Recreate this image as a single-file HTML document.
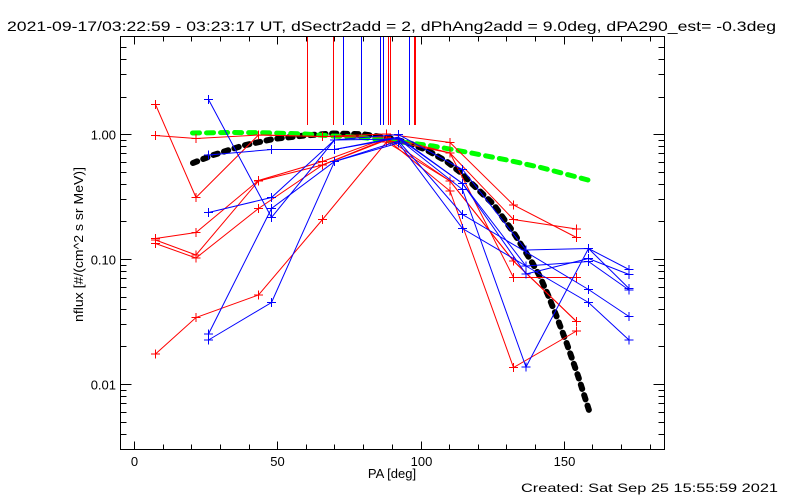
<!DOCTYPE html>
<html>
<head>
<meta charset="utf-8">
<style>
html,body{margin:0;padding:0;background:#fff;}
svg{display:block;}
text{font-family:"Liberation Sans",sans-serif;fill:#000;}
</style>
</head>
<body>
<svg width="800" height="500" viewBox="0 0 800 500" xmlns="http://www.w3.org/2000/svg">
<rect x="0" y="0" width="800" height="500" fill="#fff"/>

<!-- title -->
<text x="7" y="31" font-size="14" textLength="769" lengthAdjust="spacingAndGlyphs">2021-09-17/03:22:59 - 03:23:17 UT, dSectr2add = 2, dPhAng2add = 9.0deg, dPA290_est= -0.3deg</text>

<!-- vertical marker lines at top -->
<g stroke-width="1" shape-rendering="crispEdges">
<path d="M307.5,36.5V125M333.5,36.5V125M388.5,36.5V125M390.5,36.5V125M414.5,36.5V125M415.5,36.5V125" stroke="#ff0000"/>
<path d="M343.5,36.5V125M361.5,36.5V125M380.5,36.5V125M383.5,36.5V125M409.5,36.5V125" stroke="#0000ff"/>
</g>

<!-- black fit curve -->
<polyline fill="none" stroke="#000" stroke-width="6" stroke-linecap="round" stroke-linejoin="round" stroke-dasharray="4.5 6.5"
points="193,163 213.3,155 243.3,145.5 273.3,139 306.7,135.3 333.3,133.5 363.3,134.3 386.7,137.7 406.7,142.3 426.7,150 446.7,161.5 460,172 473.3,185 493.3,204 506.7,223 513.3,232 523.3,248.3 533,264 540,276.7 548,295 556.7,316.7 566.7,343.3 578.3,376.7 590.5,415"/>

<!-- green curve -->
<polyline fill="none" stroke="#00ff00" stroke-width="5" stroke-linecap="round" stroke-linejoin="round" stroke-dasharray="7 7.03"
points="192.5,133 230,132.5 263,132.7 305,134 333,136 360,137.3 383,140 407,142.7 433,146 470,152.7 507,160 540,167.3 573,176 588,180"/>

<!-- red series -->
<g fill="none" stroke="#ff0000" stroke-width="1">
<polyline points="155.5,104.5 196,197.5 258.5,135 322.5,136.5 386.5,134 450,142.5 513.5,205 576.5,237.5"/>
<polyline points="155.5,135.5 196,138.5 258.5,135 322.5,136.5 386.5,137 450,153 513.5,219.5 576.5,229"/>
<polyline points="155.5,238.5 196,232.5 258.5,180.5 322.5,161.5 386.5,138 450,181 513.5,261 576.5,321.5"/>
<polyline points="155.5,240 196,255 258.5,181 322.5,165 386.5,139 450,191 513.5,367.5 576.5,331"/>
<polyline points="155.5,243.5 196,258 258.5,208.5 322.5,165 386.5,140 450,153 513.5,277.5 576.5,277.5"/>
<polyline points="155.5,354 196,317.5 258.5,295 322.5,219.5 386.5,142 450,181 513.5,261 576.5,321.5"/>
<path d="M151,104.5h9M155.5,100v9M151,135.5h9M155.5,131v9M151,238.5h9M155.5,234v9M151,240h9M155.5,235.5v9M151,243.5h9M155.5,239v9M151,354h9M155.5,349.5v9
M191.5,197.5h9M196,193v9M191.5,138.5h9M196,134v9M191.5,232.5h9M196,228v9M191.5,255h9M196,250.5v9M191.5,258h9M196,253.5v9M191.5,317.5h9M196,313v9
M254,135h9M258.5,130.5v9M254,180.5h9M258.5,176v9M254,181h9M258.5,176.5v9M254,208.5h9M258.5,204v9M254,295h9M258.5,290.5v9
M318,136.5h9M322.5,132v9M318,161.5h9M322.5,157v9M318,165h9M322.5,160.5v9M318,219.5h9M322.5,215v9
M382,134h9M386.5,129.5v9M382,137h9M386.5,132.5v9M382,140h9M386.5,135.5v9M382,142h9M386.5,137.5v9
M445.5,142.5h9M450,138v9M445.5,153h9M450,148.5v9M445.5,181h9M450,176.5v9M445.5,191h9M450,186.5v9
M509,205h9M513.5,200.5v9M509,219.5h9M513.5,215v9M509,261h9M513.5,256.5v9M509,367.5h9M513.5,363v9M509,277.5h9M513.5,273v9
M572,237.5h9M576.5,233v9M572,229h9M576.5,224.5v9M572,321.5h9M576.5,317v9M572,331h9M576.5,326.5v9M572,277.5h9M576.5,273v9"/>
</g>

<!-- blue series -->
<g fill="none" stroke="#0000ff" stroke-width="1">
<polyline points="208.5,99.5 271.5,217.5 334.5,140 398.5,134.5 462.5,169.5 526,250 588.5,248.5 629,269.5"/>
<polyline points="208.5,155 271.5,149.5 334.5,149.5 398.5,137 462.5,183.5 526,274 588.5,258.5 629,274.5"/>
<polyline points="208.5,212.5 271.5,197.5 334.5,140 398.5,139 462.5,189.5 526,367 588.5,248.5 629,288.5"/>
<polyline points="208.5,334 271.5,208.5 334.5,161.5 398.5,141 462.5,214.5 526,252 588.5,289.5 629,316.5"/>
<polyline points="208.5,340 271.5,302.5 334.5,161.5 398.5,143 462.5,228.5 526,266 588.5,302.5 629,340"/>
<polyline points="334.5,149.5 398.5,138 462.5,183.5 526,266 588.5,261.5 629,290"/>
<path d="M204,99.5h9M208.5,95v9M204,155h9M208.5,150.5v9M204,212.5h9M208.5,208v9M204,334h9M208.5,329.5v9M204,340h9M208.5,335.5v9
M267,217.5h9M271.5,213v9M267,149.5h9M271.5,145v9M267,197.5h9M271.5,193v9M267,208.5h9M271.5,204v9M267,302.5h9M271.5,298v9
M330,140h9M334.5,135.5v9M330,149.5h9M334.5,145v9M330,161.5h9M334.5,157v9
M394,134.5h9M398.5,130v9M394,139h9M398.5,134.5v9M394,143h9M398.5,138.5v9
M458,169.5h9M462.5,165v9M458,183.5h9M462.5,179v9M458,189.5h9M462.5,185v9M458,214.5h9M462.5,210v9M458,228.5h9M462.5,224v9
M521.5,250h9M526,245.5v9M521.5,274h9M526,269.5v9M521.5,367h9M526,362.5v9M521.5,266h9M526,261.5v9
M584,248.5h9M588.5,244v9M584,258.5h9M588.5,254v9M584,261.5h9M588.5,257v9M584,289.5h9M588.5,285v9M584,302.5h9M588.5,298v9
M624.5,269.5h9M629,265v9M624.5,274.5h9M629,270v9M624.5,288.5h9M629,284v9M624.5,290h9M629,285.5v9M624.5,316.5h9M629,312v9M624.5,340h9M629,335.5v9"/>
</g>

<!-- axes box and ticks -->
<g fill="none" stroke="#000" stroke-width="1" shape-rendering="crispEdges">
<rect x="120.5" y="36.5" width="544" height="413"/>
<path d="M134.5,449.5v-8M277.5,449.5v-8M421.5,449.5v-8M564.5,449.5v-8
M134.5,36.5v8M277.5,36.5v8M421.5,36.5v8M564.5,36.5v8"/>
<path d="M163.5,449.5v-5M191.5,449.5v-5M220.5,449.5v-5M249.5,449.5v-5M306.5,449.5v-5M334.5,449.5v-5M363.5,449.5v-5M392.5,449.5v-5M449.5,449.5v-5M478.5,449.5v-5M506.5,449.5v-5M535.5,449.5v-5M592.5,449.5v-5M621.5,449.5v-5M650.5,449.5v-5
M163.5,36.5v5M191.5,36.5v5M220.5,36.5v5M249.5,36.5v5M306.5,36.5v5M334.5,36.5v5M363.5,36.5v5M392.5,36.5v5M449.5,36.5v5M478.5,36.5v5M506.5,36.5v5M535.5,36.5v5M592.5,36.5v5M621.5,36.5v5M650.5,36.5v5"/>
<path d="M120.5,134.5h11M120.5,259.5h11M120.5,384.5h11M664.5,134.5h-11M664.5,259.5h-11M664.5,384.5h-11"/>
<path d="M120.5,97.5h6M120.5,74.5h6M120.5,59.5h6M120.5,47.5h6
M120.5,221.5h6M120.5,199.5h6M120.5,184.5h6M120.5,172.5h6M120.5,162.5h6M120.5,153.5h6M120.5,146.5h6M120.5,140.5h6
M120.5,346.5h6M120.5,324.5h6M120.5,309.5h6M120.5,297.5h6M120.5,287.5h6M120.5,278.5h6M120.5,271.5h6M120.5,265.5h6
M120.5,434.5h6M120.5,422.5h6M120.5,412.5h6M120.5,403.5h6M120.5,396.5h6M120.5,390.5h6
M664.5,97.5h-6M664.5,74.5h-6M664.5,59.5h-6M664.5,47.5h-6
M664.5,221.5h-6M664.5,199.5h-6M664.5,184.5h-6M664.5,172.5h-6M664.5,162.5h-6M664.5,153.5h-6M664.5,146.5h-6M664.5,140.5h-6
M664.5,346.5h-6M664.5,324.5h-6M664.5,309.5h-6M664.5,297.5h-6M664.5,287.5h-6M664.5,278.5h-6M664.5,271.5h-6M664.5,265.5h-6
M664.5,434.5h-6M664.5,422.5h-6M664.5,412.5h-6M664.5,403.5h-6M664.5,396.5h-6M664.5,390.5h-6"/>
</g>

<!-- y tick labels -->
<g font-size="13" text-anchor="end">
<text x="116" y="139.5">1.00</text>
<text x="116" y="264.5">0.10</text>
<text x="116" y="389.5">0.01</text>
</g>

<!-- x tick labels -->
<g font-size="13" text-anchor="middle">
<text x="134.5" y="466">0</text>
<text x="277.5" y="466">50</text>
<text x="421.5" y="466">100</text>
<text x="564.5" y="466">150</text>
</g>

<!-- axis titles -->
<text x="392" y="478" font-size="13" text-anchor="middle">PA [deg]</text>
<text transform="translate(83,322) rotate(-90)" x="0" y="0" font-size="13" textLength="155" lengthAdjust="spacingAndGlyphs">nflux [#/(cm^2 s sr MeV)]</text>

<!-- created stamp -->
<text x="521" y="492" font-size="12" textLength="257" lengthAdjust="spacingAndGlyphs">Created: Sat Sep 25 15:55:59 2021</text>
</svg>
</body>
</html>
